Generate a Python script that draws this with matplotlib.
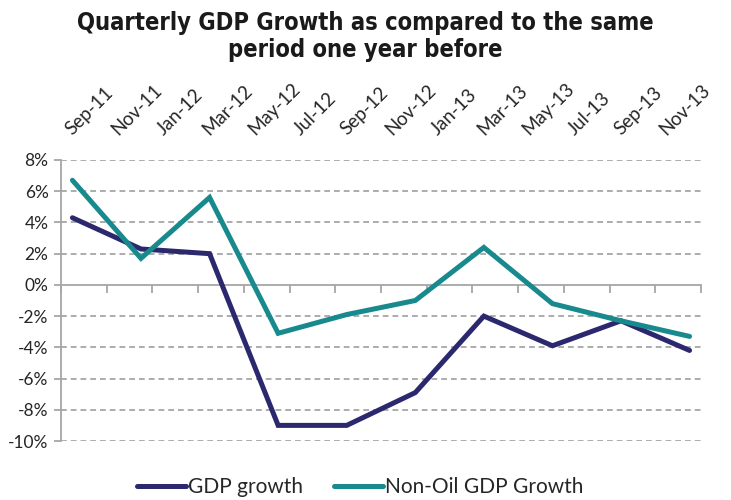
import matplotlib
matplotlib.use("Agg")
import matplotlib.pyplot as plt
from matplotlib.ticker import FixedLocator, FuncFormatter

# Month index 0 = Sep-11 (monthly date axis, labels every 2 months)
tick_labels = ["Sep-11", "Nov-11", "Jan-12", "Mar-12", "May-12", "Jul-12", "Sep-12",
               "Nov-12", "Jan-13", "Mar-13", "May-13", "Jul-13", "Sep-13", "Nov-13"]
# Quarterly observations: Sep-11, Dec-11, Mar-12, ..., Dec-13
quarter_months = [0, 3, 6, 9, 12, 15, 18, 21, 24, 27]
gdp_growth = [4.3, 2.3, 2.0, -9.0, -9.0, -6.9, -2.0, -3.9, -2.3, -4.2]
non_oil_growth = [6.7, 1.7, 5.6, -3.1, -1.9, -1.0, 2.4, -1.2, -2.3, -3.3]
y_ticks = [8, 6, 4, 2, 0, -2, -4, -6, -8, -10]

navy = "#2B286E"
teal = "#188A8D"
grid_gray = "#A6A6A6"
text_col = "#262626"

fig = plt.figure(figsize=(7.31, 5.0), dpi=100)
ax = fig.add_axes([61/731, 1-441/500, 640/731, 281/500])

n_months = len(tick_labels) * 2
ax.set_xlim(-0.5, n_months - 0.5)
ax.set_ylim(min(y_ticks), max(y_ticks))

# gridlines (dashed) except zero line
for v in y_ticks:
    if v != 0:
        ax.axhline(v, color=grid_gray, lw=1.3, ls=(0, (3.2, 2.2)), zorder=1)

ax.plot(quarter_months, gdp_growth, color=navy, lw=3.6, solid_capstyle="round",
        solid_joinstyle="miter", label="GDP growth", zorder=3)
ax.plot(quarter_months, non_oil_growth, color=teal, lw=3.6, solid_capstyle="round",
        solid_joinstyle="miter", label="Non-Oil GDP Growth", zorder=3)

for s in ["top", "right"]:
    ax.spines[s].set_visible(False)
ax.spines["bottom"].set_position(("data", 0))
ax.spines["bottom"].set_color(grid_gray)
ax.spines["bottom"].set_linewidth(1.3)
ax.spines["left"].set_color(grid_gray)
ax.spines["left"].set_linewidth(1.3)

# y axis
ax.set_yticks(y_ticks)
ax.yaxis.set_major_formatter(FuncFormatter(lambda v, p: f"{int(v)}%"))
ax.tick_params(axis="y", direction="out", length=5, width=1.3, color=grid_gray,
               labelsize=12.5, labelcolor=text_col, pad=4)

# x axis: labels at top, tick marks on zero line
ax.xaxis.set_major_locator(FixedLocator([2 * i for i in range(len(tick_labels))]))
ax.set_xticklabels(tick_labels)
ax.xaxis.set_minor_locator(FixedLocator([2 * i - 0.5 for i in range(len(tick_labels) + 1)]))
ax.tick_params(axis="x", which="major", bottom=False, top=False, labelbottom=False,
               labeltop=True, labelsize=13.5, labelcolor=text_col, pad=14)
ax.tick_params(axis="x", which="minor", bottom=True, top=False, direction="out",
               length=6, width=1.3, color=grid_gray)
for lbl in ax.get_xticklabels():
    lbl.set_rotation(45)
    lbl.set_rotation_mode("anchor")
    lbl.set_ha("left")
    lbl.set_va("baseline")

for lbl in ax.get_xticklabels() + ax.get_yticklabels():
    lbl.set_family(["Lato", "DejaVu Sans"])

fig.text(0.5, 0.978, "Quarterly GDP Growth as compared to the same\nperiod one year before",
         ha="center", va="top", fontsize=17, fontweight="bold", color="#1a1a1a",
         family="DejaVu Sans", fontstretch="condensed", linespacing=1.15)

leg = fig.legend(loc="center", bbox_to_anchor=(0.493, 0.026), ncol=2, frameon=False,
                 prop={"family": "Lato", "size": 15}, handlelength=2.35,
                 handletextpad=0.1, columnspacing=1.5)
for t in leg.get_texts():
    t.set_color(text_col)
for h in leg.get_lines():
    h.set_linewidth(3.6)
    h.set_solid_capstyle("round")

fig.savefig("out.png", dpi=100)
